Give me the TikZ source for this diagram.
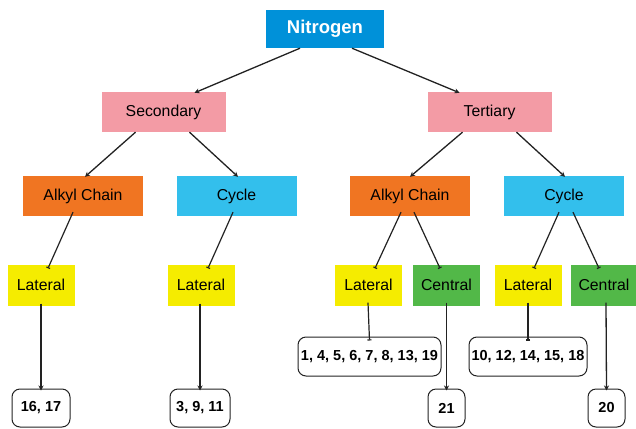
\documentclass[tikz,border=0pt]{standalone}
\usepackage{fontspec}
\setmainfont{Liberation Sans}
\usetikzlibrary{arrows.meta,calc}
\definecolor{nitblue}{HTML}{0091D9}
\definecolor{pinkbox}{HTML}{F39BA5}
\definecolor{orangebox}{HTML}{F07522}
\definecolor{cyanbox}{HTML}{33BFEC}
\definecolor{yellowbox}{HTML}{F5EC00}
\definecolor{greenbox}{HTML}{52B848}
\definecolor{linecol}{HTML}{222222}
\tikzset{
  box/.style={rectangle, inner sep=0pt, minimum height=40pt, font=\fontsize{15.8}{18}\selectfont, text=black},
  topbox/.style={box, fill=nitblue, minimum width=118pt, minimum height=38pt, text=white, font=\fontsize{18.5}{20}\selectfont\bfseries},
  pinkb/.style={box, fill=pinkbox, minimum width=124pt},
  orangeb/.style={box, fill=orangebox, minimum width=120pt},
  cyanb/.style={box, fill=cyanbox, minimum width=120pt},
  yellowb/.style={box, fill=yellowbox, minimum width=67pt, minimum height=41pt},
  greenb/.style={box, fill=greenbox, minimum width=67pt, minimum height=41pt},
  res/.style={rectangle, rounded corners=8pt, draw=linecol, line width=1pt, fill=white, inner sep=0pt, minimum height=38pt, font=\fontsize{14.5}{16}\selectfont\bfseries},
  arr/.style={draw=linecol, line width=1.3pt, -{Stealth[length=5pt,width=5pt]}},
  tick/.style={draw=linecol, line width=1.2pt, -{Bar[width=4pt]}},
}
\begin{document}
\begin{tikzpicture}[x=1pt,y=-1pt]
\useasboundingbox (0,0) rectangle (636,428);
\node[topbox] (nit) at (325,29) {Nitrogen};
\node[pinkb] (sec) at (163.5,112) {Secondary};
\node[pinkb] (ter) at (489.5,112) {Tertiary};
\node[orangeb] (alkL) at (83,196) {Alkyl Chain};
\node[cyanb] (cycL) at (236.5,196) {Cycle};
\node[orangeb] (alkR) at (410,196) {Alkyl Chain};
\node[cyanb] (cycR) at (564,196) {Cycle};
\node[yellowb] (latA) at (41,285) {Lateral};
\node[yellowb] (latB) at (201,285) {Lateral};
\node[yellowb] (latC) at (368.5,285) {Lateral};
\node[greenb] (cenC) at (446.5,285) {Central};
\node[yellowb] (latD) at (528,285) {Lateral};
\node[greenb] (cenD) at (604,285) {Central};
\node[res, minimum width=58pt] (rA) at (41,408) {16, 17};
\node[res, minimum width=60pt] (rB) at (200,408) {3, 9, 11};
\node[res, minimum width=143pt, minimum height=39pt] (rC) at (369.5,356.5) {1, 4, 5, 6, 7, 8, 13, 19};
\node[res, minimum width=118pt, minimum height=39pt] (rD) at (528,356.5) {10, 12, 14, 15, 18};
\node[res, minimum width=37pt] (rE) at (446.5,408) {21};
\node[res, minimum width=37pt] (rF) at (606.5,408) {20};
% level 1
\draw[arr] ([xshift=-25pt]nit.south) -- ([xshift=31pt,yshift=-1pt]sec.north);
\draw[arr] ([xshift=27pt]nit.south) -- ([xshift=-30pt,yshift=-1pt]ter.north);
% level 2
\draw[arr] ([xshift=-28pt]sec.south) -- ([xshift=2pt,yshift=-1pt]alkL.north);
\draw[arr] ([xshift=26pt]sec.south) -- ([xshift=1.5pt,yshift=-1pt]cycL.north);
\draw[arr] ([xshift=-27pt]ter.south) -- ([xshift=0pt,yshift=-1pt]alkR.north);
\draw[arr] ([xshift=27pt]ter.south) -- ([xshift=1pt,yshift=-1pt]cycR.north);
% level 3
\draw[tick] ([xshift=-10pt,yshift=4pt]alkL.south) -- ([xshift=7pt,yshift=-4pt]latA.north);
\draw[tick] ([xshift=-3.5pt,yshift=4pt]cycL.south) -- ([xshift=7pt,yshift=-4pt]latB.north);
\draw[tick] ([xshift=-9pt,yshift=4pt]alkR.south) -- ([xshift=6.5pt,yshift=-4pt]latC.north);
\draw[tick] ([xshift=4pt,yshift=4pt]alkR.south) -- ([xshift=-6.5pt,yshift=-4pt]cenC.north);
\draw[tick] ([xshift=-5pt,yshift=4pt]cycR.south) -- ([xshift=6pt,yshift=-4pt]latD.north);
\draw[tick] ([xshift=9pt,yshift=4pt]cycR.south) -- ([xshift=-5pt,yshift=-4pt]cenD.north);
% level 4
\draw[arr] ([yshift=2pt]latA.south) -- ([yshift=-2pt]latA.south |- rA.north);
\draw[arr] ([xshift=-1pt,yshift=2pt]latB.south) -- ([yshift=-2pt]rB.north);
\draw[tick] ([xshift=-0.5pt,yshift=3pt]latC.south) -- ([yshift=-4pt]rC.north);
\draw[arr] ([yshift=3pt]cenC.south) -- ([yshift=-2pt]rE.north);
\draw[tick] ([yshift=3pt]latD.south) -- ([yshift=-4pt]rD.north);
\draw[arr] ([xshift=2pt,yshift=3pt]cenD.south) -- ([yshift=-2pt]rF.north);
\end{tikzpicture}
\end{document}
